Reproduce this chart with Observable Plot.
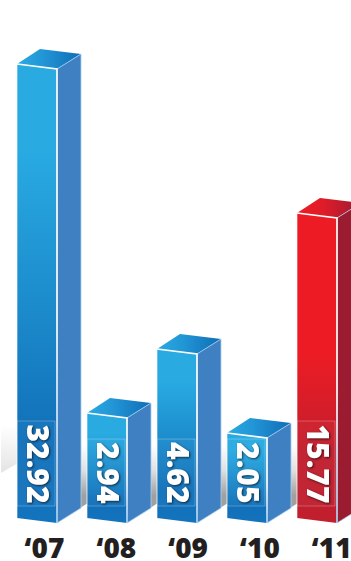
<!DOCTYPE html>
<html>
<head>
<meta charset="utf-8">
<script src="https://cdn.jsdelivr.net/npm/d3@7"></script>
<script src="https://cdn.jsdelivr.net/npm/@observablehq/plot@0.6"></script>
<style>
  html, body { margin: 0; padding: 0; background: #fff; overflow: hidden; }
</style>
</head>
<body>
<div id="chart"></div>
<script>
const years = ["‘07", "‘08", "‘09", "‘10", "‘11"];
const amounts = [32.92, 2.94, 4.62, 2.05, 15.77];
const highlighted = ["‘11"];

// The bar heights are compressed by eye rather than proportional, so the
// value axis is a hand-set piecewise scale with one knot for each bar.
const scaleValues = [0, 2.05, 2.94, 4.62, 15.77, 32.92];
const scalePixels = [518, 433, 413, 349, 213, 64];

const rows = years.map((year, i) => ({year, amount: amounts[i], label: amounts[i].toFixed(2)}));
const blueRows = rows.filter(d => !highlighted.includes(d.year));
const redRows = rows.filter(d => highlighted.includes(d.year));

// Extrusion of the fake 3D prisms, in pixels.
const SLOPE = 5, DEPTH = 24, RISE = 15;

const toPath = pts => "M" + pts.map(p => p.join(",")).join("L");

// Turns each rect from a bar mark into an arbitrary outline built from its scaled box.
const reshape = (build, closed = true) => (I, scales, values, dims, ctx, next) => {
  const g = next(I, scales, values, dims, ctx);
  d3.select(g).selectAll("rect").each(function(i) {
    const r = d3.select(this);
    const box = {x: +r.attr("x"), y: +r.attr("y"), w: +r.attr("width"), h: +r.attr("height"), i, base: +r.attr("y") + +r.attr("height")};
    d3.select(this.parentNode).insert("path", () => this)
      .attr("d", toPath(build(box)) + (closed ? "Z" : ""));
    r.remove();
  });
  return g;
};

const frontFace = ({x, y, w, h}) => [[x, y], [x + w, y + SLOPE], [x + w, y + h + SLOPE], [x, y + h]];
const sideFace = ({x, y, w, h}) => [[x + w, y + SLOPE], [x + w + DEPTH, y + SLOPE - RISE], [x + w + DEPTH, y + h + SLOPE - RISE], [x + w, y + h + SLOPE]];
const topFace = ({x, y, w}) => [[x, y], [x + DEPTH - 1, y - RISE], [x + w + DEPTH, y + SLOPE - RISE], [x + w, y + SLOPE]];
const frontRim = ({x, y, w, h}) => [[x, y], [x + w, y + SLOPE], [x + w, y + h + SLOPE]];
const frontLeft = ({x, y, h}) => [[x, y], [x, y + h]];

// Soft cast shadow on the wall to the right of each prism; the first one also spills left.
const wallShadow = ({x, w, base}) => {
  const left = x + w + DEPTH - 1;
  const right = left + 30;
  const low = base + SLOPE - RISE;
  return [[left, 445], [right, 445], [right, low - 30 * RISE / DEPTH], [left, low]];
};
const leftWedge = ({x, base}) => [[x - 16, 425], [x + 1, 425], [x + 1, base - 55], [x - 16, base - 45]];

// Outlined panel behind each rotated figure; its length follows the label length.
const labelPanel = ({x, w, base, i}) => {
  const length = rows[i].label.length === 5 ? 85 : 67;
  return [[x, base - 12 - length], [x + w - 2, base - 12 - length], [x + w - 2, base - 12], [x, base - 12]];
};

const gradient = (defs, id, vertical, stops) => {
  const lg = defs.append("linearGradient").attr("id", id)
    .attr("x1", 0).attr("y1", 0).attr("x2", vertical ? 0 : 1).attr("y2", vertical ? 1 : 0);
  stops.forEach(([o, c]) => lg.append("stop").attr("offset", o).attr("stop-color", c));
};

const gradients = () => {
  const defs = d3.create("svg:defs");
  gradient(defs, "frontBlue", true, [[0, "#29abe2"], [0.18, "#29abe2"], [0.82, "#1170b9"], [1, "#1473bd"]]);
  gradient(defs, "frontRed", true, [[0, "#ed1c24"], [0.45, "#ed1c24"], [0.78, "#c11e2e"], [1, "#c11e2e"]]);
  gradient(defs, "topBlue", false, [[0, "#29abe2"], [0.4, "#2296d6"], [1, "#0f6db5"]]);
  gradient(defs, "topRed", false, [[0, "#ed1c24"], [0.4, "#e01c28"], [1, "#9e1b32"]]);
  gradient(defs, "rim", true, [[0, "#ffffff"], [0.55, "#ffffff"], [1, "#a9d0f0"]]);
  gradient(defs, "shadow", true, [[0, "#ffffff"], [0.4, "#e0e0e0"], [0.8, "#a0a0a0"], [1, "#a0a0a0"]]);
  gradient(defs, "wedge", true, [[0, "#ffffff"], [1, "#e4e4e4"]]);
  return defs.node();
};

const prismLayers = (data, front, side, top) => [
  Plot.barY(data, {x: "year", y: "amount", fill: side, render: reshape(sideFace)}),
  Plot.barY(data, {x: "year", y: "amount", fill: top, render: reshape(topFace)}),
  Plot.barY(data, {x: "year", y: "amount", fill: front, render: reshape(frontFace)}),
  Plot.barY(data, {x: "year", y: "amount", fill: "none", stroke: "#a9d0f0", strokeWidth: 0.8, render: reshape(sideFace, false)}),
  Plot.barY(data, {x: "year", y: "amount", fill: "none", stroke: "#ffffff", strokeOpacity: 0.6, strokeWidth: 1, render: reshape(frontLeft, false)}),
  Plot.barY(data, {x: "year", y: "amount", fill: "none", stroke: "url(#rim)", strokeWidth: 1.7, render: reshape(frontRim, false)})
];

const chart = Plot.plot({
  width: 351,
  height: 561,
  marginTop: 0,
  marginRight: 0,
  marginBottom: 23,
  marginLeft: 0,
  style: {background: "#fff", overflow: "hidden"},
  x: {type: "band", domain: years, range: [-0.3, 353.7], paddingInner: 0.43, paddingOuter: 0.215, axis: null},
  y: {type: "linear", domain: scaleValues, range: scalePixels, axis: null},
  marks: [
    gradients,
    Plot.barY(rows, {x: "year", y: "amount", fill: "url(#shadow)", render: reshape(wallShadow)}),
    Plot.barY(rows.slice(0, 1), {x: "year", y: "amount", fill: "url(#wedge)", render: reshape(leftWedge)}),
    ...prismLayers(blueRows, "url(#frontBlue)", "#3f80c2", "url(#topBlue)"),
    ...prismLayers(redRows, "url(#frontRed)", "#9b1c31", "url(#topRed)"),
    // Panels and rotated value figures, anchored to the foot of each prism.
    Plot.barY(rows, {x: "year", y: "amount", fill: "#fff", fillOpacity: 0.03, stroke: "#fff", strokeOpacity: 0.32, strokeWidth: 0.8, render: reshape(labelPanel)}),
    Plot.text(rows, {
      x: "year",
      y: () => 0,
      text: "label",
      rotate: 90,
      textAnchor: "end",
      lineAnchor: "middle",
      dx: -1,
      dy: -15,
      fill: "#fff",
      fontFamily: "'Open Sans'",
      fontWeight: 800,
      fontSize: 30,
      render: (I, s, v, d, c, next) => {
        const g = next(I, s, v, d, c);
        g.style.filter = "drop-shadow(1.2px 1.2px 1px rgba(0,0,0,0.65))";
        return g;
      }
    }),
    // Year labels drift slightly wider than the bars, so each gets its own offset.
    ...years.map((year, i) => Plot.axisX([year], {
      anchor: "bottom",
      tickSize: 0,
      tickPadding: 0,
      label: null,
      dx: 7 + i * 1.8,
      fill: "#231f20",
      fontFamily: "'Open Sans'",
      fontWeight: 800,
      fontSize: 28
    }))
  ]
});

document.getElementById("chart").appendChild(chart);
</script>
</body>
</html>
